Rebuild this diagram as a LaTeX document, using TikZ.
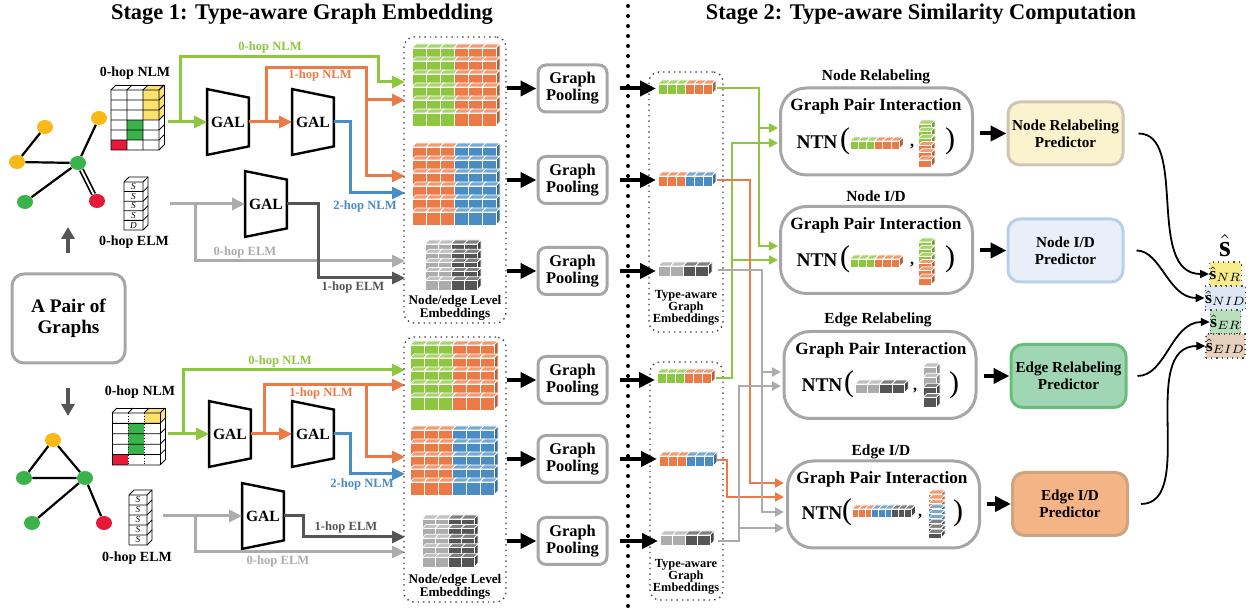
\documentclass[tikz,border=0pt]{standalone}
\usepackage{fontspec}
\setmainfont{Liberation Serif}
\usetikzlibrary{arrows.meta,shapes.geometric}

\definecolor{hopgreen}{RGB}{141,198,63}
\definecolor{hoporange}{RGB}{236,122,70}
\definecolor{hopblue}{RGB}{74,140,196}
\definecolor{elmlight}{RGB}{172,172,172}
\definecolor{elmdark}{RGB}{85,85,85}
\definecolor{framegray}{RGB}{166,166,166}
\definecolor{vyellow}{RGB}{249,185,22}
\definecolor{vgreen}{RGB}{58,180,74}
\definecolor{vred}{RGB}{228,26,56}
\definecolor{mtxyellow}{RGB}{252,226,108}
\definecolor{nrfill}{RGB}{251,242,206}
\definecolor{nrline}{RGB}{206,198,178}
\definecolor{nidfill}{RGB}{233,239,248}
\definecolor{nidline}{RGB}{184,206,234}
\definecolor{erfill}{RGB}{160,214,180}
\definecolor{erline}{RGB}{104,190,120}
\definecolor{eidfill}{RGB}{245,180,134}
\definecolor{eidline}{RGB}{204,164,128}
\definecolor{snr}{RGB}{246,236,140}
\definecolor{snid}{RGB}{222,232,244}
\definecolor{ser}{RGB}{186,222,188}
\definecolor{seid}{RGB}{230,208,190}

% one brick: left, top, width, height, colour
\newcommand{\brick}[5]{%
  \filldraw[brickedge, fill=#5!78!black] ({#1+#3},{#2}) -- ++(4,-4) -- ++(0,{#4}) -- ++(-4,4) -- cycle;
  \filldraw[brickedge, fill=#5!75!white] ({#1},{#2}) -- ++(4,-4) -- ++({#3},0) -- ++(-4,4) -- cycle;
  \filldraw[brickedge, fill=#5] ({#1},{#2}) rectangle ++({#3},{#4});}
% a row of bricks: left, top, width, height, colours
\newcommand{\brickrow}[5]{%
  \foreach \bc [count=\bi] in {#5}{\brick{#1+(\bi-1)*#3}{#2}{#3}{#4}{\bc}}}
% a column of bricks: left, top, width, height, colours from the top down
\newcommand{\brickcol}[5]{%
  \foreach \bc [count=\bi] in {#5}{\brick{#1}{#2+(\bi-1)*#4}{#3}{#4}{\bc}}}
% a wall of bricks, top row first: left, bottom, rows, width, height, colours of one row
\newcommand{\brickwall}[6]{%
  \foreach \br in {#3,...,1}{\brickrow{#1}{#2-\br*#5}{#4}{#5}{#6}}}
% GAL block: name, centre
\newcommand{\galblock}[2]{%
  \node[galtext] (#1) at (#2) {GAL};
  \draw[galedge] (#1.north west) -- ([yshift=-4.25pt]#1.north east)
    -- ([yshift=4.25pt]#1.south east) -- (#1.south west) -- cycle;}

\tikzset{
  stagetitle/.style={font=\bfseries\fontsize{11.2}{12}\selectfont, inner sep=0pt},
  vtx/.style={ellipse, minimum width=8pt, minimum height=7pt, inner sep=0pt},
  graphedge/.style={line width=1.1pt},
  pairbox/.style={draw=framegray, line width=1.5pt, rounded corners=6pt, minimum width=56.5pt,
    minimum height=44.5pt, align=center, inner sep=0pt, font=\bfseries\fontsize{9.6}{10.5}\selectfont},
  pairarrow/.style={draw=elmdark, line width=2pt, -{Triangle[length=6pt,width=6.5pt]}},
  gridline/.style={line width=0.4pt, black},
  elmtext/.style={font=\itshape\fontsize{4.6}{5}\selectfont, inner sep=0pt},
  mtxlabel/.style={font=\bfseries\fontsize{7}{8}\selectfont, inner sep=0pt},
  hop/.style={line width=1.5pt, -{Triangle[length=6.5pt,width=6pt]}},
  hoplabel/.style={font=\bfseries\fontsize{6.3}{7}\selectfont, inner sep=0pt},
  galtext/.style={minimum width=20.5pt, minimum height=32.5pt, inner sep=0pt,
    font=\bfseries\fontsize{7.8}{8}\selectfont},
  galedge/.style={line width=1.2pt},
  brickedge/.style={draw=white, line width=0.35pt},
  embframe/.style={draw=black!75, dotted, line width=0.7pt, rounded corners=5pt},
  emblabel/.style={align=center, inner sep=0pt, font=\bfseries\fontsize{6.6}{6.6}\selectfont},
  talabel/.style={align=center, inner sep=0pt, font=\bfseries\fontsize{6.2}{6.1}\selectfont},
  pool/.style={draw=framegray, line width=1.5pt, rounded corners=4pt, minimum width=34.5pt,
    minimum height=23.5pt, align=center, inner sep=0pt, font=\bfseries\fontsize{8.2}{8.6}\selectfont},
  bigarrow/.style={line width=2pt, -{Triangle[length=8pt,width=7.5pt]}},
  wire/.style={line width=1.1pt, -{Triangle[length=4.5pt,width=4.5pt]}},
  gpi/.style={draw=framegray, line width=1.5pt, rounded corners=13pt, minimum width=96pt,
    minimum height=43.5pt, inner sep=0pt},
  task/.style={font=\bfseries\fontsize{7.7}{8}\selectfont, inner sep=0pt},
  gpititle/.style={font=\bfseries\fontsize{8.6}{9}\selectfont, inner sep=0pt},
  ntn/.style={font=\bfseries\fontsize{9.7}{10}\selectfont, inner sep=0pt},
  paren/.style={font=\fontsize{15}{15}\selectfont, inner sep=0pt},
  comma/.style={font=\bfseries\fontsize{8}{8}\selectfont, inner sep=0pt},
  predictor/.style={line width=1.5pt, rounded corners=6pt, minimum width=57.5pt, minimum height=31.5pt,
    align=center, inner sep=0pt, font=\bfseries\fontsize{7.6}{8.6}\selectfont},
  scorecell/.style={draw=black!70, dotted, line width=0.6pt, minimum width=14.5pt, minimum height=12pt,
    inner sep=0pt, font=\fontsize{8.6}{8.6}\selectfont},
  scorearrow/.style={line width=0.9pt, -{Triangle[length=4.5pt,width=4pt]}},
}

\begin{document}
\begin{tikzpicture}[x=0.5pt, y=-0.5pt]
\useasboundingbox (0,0) rectangle (1250,613);

% titles and divider
\node[stagetitle] (st1) at (302,14) {Stage 1: Type-aware Graph Embedding};
\node[stagetitle] (st2) at (921,14) {Stage 2: Type-aware Similarity Computation};
\draw[line width=2pt, dash pattern=on 0pt off 5pt, line cap=round] (628,6) -- (628,610);

% first graph
\node[vtx, fill=vyellow] (a1) at (45,127) {};
\node[vtx, fill=vyellow] (a2) at (17,162) {};
\node[vtx, fill=vyellow] (a3) at (99,118) {};
\node[vtx, fill=vgreen] (a4) at (78,163) {};
\node[vtx, fill=vgreen] (a5) at (25,202) {};
\node[vtx, fill=vred] (a6) at (97,201) {};
\draw[graphedge] (a1) -- (a2) (a2) -- (a4) (a3) -- (a4) (a4) -- (a5);
\draw[line width=0.8pt, double, double distance=1pt] (a4) -- (a6);

% second graph
\node[vtx, fill=vyellow] (b1) at (53,440) {};
\node[vtx, fill=vgreen] (b2) at (24,478) {};
\node[vtx, fill=vgreen] (b3) at (85,478) {};
\node[vtx, fill=vgreen] (b4) at (32,523) {};
\node[vtx, fill=vred] (b5) at (104,523) {};
\draw[graphedge] (b1) -- (b2) (b1) -- (b3) (b2) -- (b3) (b3) -- (b4) (b3) -- (b5);

% the pair
\node[pairbox] (pair) at (68.5,318.5) {A Pair of\\Graphs};
\coordinate (up0) at (68,253);
\coordinate (up1) at (68,227);
\coordinate (dn0) at (68,388);
\coordinate (dn1) at (68,416);
\draw[pairarrow] (up0) -- (up1);
\draw[pairarrow] (dn0) -- (dn1);

% 0-hop NLM, first graph
\begin{scope}[shift={(111,90)}]
  \fill[mtxyellow] (32,0) rectangle (48,30) (32,0) -- (37,-5) -- (53,-5) -- (48,0) -- cycle
    (48,0) -- (53,-5) -- (53,25) -- (48,30) -- cycle;
  \fill[vgreen] (16,30) rectangle (32,50);
  \fill[vred] (0,50) rectangle (16,60);
  \foreach \i in {0,16,32,48} \draw[gridline] (\i,60) -- (\i,0) -- ++(5,-5);
  \foreach \j in {0,...,6} \draw[gridline] (0,{10*\j}) -- (48,{10*\j}) -- ++(5,-5);
  \draw[gridline] (5,-5) -- (53,-5) -- (53,55);
\end{scope}
\node[mtxlabel] (nlm1lbl) at (135,73) {0-hop NLM};
\coordinate (nlm1) at (168,122);

% 0-hop ELM, first graph
\begin{scope}[shift={(124,182)}]
  \foreach \j in {0,...,5} \draw[gridline] (0,{9.6*\j}) -- (19,{9.6*\j}) -- ++(5,-5);
  \draw[gridline] (0,48) -- (0,0) -- (5,-5) -- (24,-5) -- (24,43) (19,0) -- (19,48);
  \foreach \t [count=\j] in {S,S,S,S,D} \node[elmtext] (elm1-\j) at (9.5,{9.6*\j-4.8}) {\t};
\end{scope}
\node[mtxlabel] (elm1lbl) at (134,242) {0-hop ELM};
\coordinate (elm1) at (170,204);

% 0-hop NLM, second graph
\begin{scope}[shift={(112,413)}]
  \fill[mtxyellow] (32,0) rectangle (48,10.4) (32,0) -- (37,-5) -- (53,-5) -- (48,0) -- cycle
    (48,0) -- (53,-5) -- (53,5.4) -- (48,10.4) -- cycle;
  \fill[vgreen] (16,10.4) rectangle (32,41.6);
  \fill[vred] (0,41.6) rectangle (16,52);
  \draw[gridline, densely dotted] (16,0) -- (16,52) (32,0) -- (32,52);
  \foreach \i in {0,16,32} \draw[gridline] (\i,0) -- ++(5,-5);
  \draw[gridline] (0,0) -- (0,52) (48,0) -- (48,52);
  \foreach \j in {0,...,5} \draw[gridline] (0,{10.4*\j}) -- (48,{10.4*\j}) -- ++(5,-5);
  \draw[gridline] (5,-5) -- (53,-5) -- (53,47);
\end{scope}
\node[mtxlabel] (nlm2lbl) at (140,392) {0-hop NLM};
\coordinate (nlm2) at (168,434);

% 0-hop ELM, second graph
\begin{scope}[shift={(129,495)}]
  \foreach \j in {0,...,5} \draw[gridline] (0,{10*\j}) -- (18,{10*\j}) -- ++(5,-5);
  \draw[gridline] (0,50) -- (0,0) -- (5,-5) -- (23,-5) -- (23,45) (18,0) -- (18,50);
  \foreach \j in {1,...,5} \node[elmtext] (elm2-\j) at (9,{10*\j-5}) {S};
\end{scope}
\node[mtxlabel] (elm2lbl) at (137,558) {0-hop ELM};
\coordinate (elm2) at (163,516);

% GAL layers
\galblock{gal1}{228,122}
\galblock{gal2}{313,122}
\galblock{gal3}{266,204}
\galblock{gal4}{230,434}
\galblock{gal5}{313,434}
\galblock{gal6}{263,516}

% inputs of the node/edge level embeddings
\coordinate (in-a1) at (405,82);
\coordinate (in-a2) at (405,100);
\coordinate (in-a3) at (405,176);
\coordinate (in-a4) at (405,193);
\coordinate (in-a5) at (405,261);
\coordinate (in-a6) at (405,278);
\coordinate (in-b1) at (405,370);
\coordinate (in-b2) at (405,385);
\coordinate (in-b3) at (405,457);
\coordinate (in-b4) at (405,474);
\coordinate (in-b5) at (405,537);
\coordinate (in-b6) at (405,552);

% hops, first graph
\draw[hop, hopgreen] (nlm1) -- (gal1.west);
\draw[hop, hopgreen] (180,122) |- (378,57) |- (in-a1);
\draw[hop, hoporange] (gal1.east) -- (gal2.west);
\draw[hop, hoporange] (266,122) |- (366,68) |- (in-a2);
\draw[hop, hoporange] (366,100) |- (in-a3);
\draw[hop, hopblue] (gal2.east) -- (350,122) |- (in-a4);
\draw[hop, elmlight] (elm1) -- (gal3.west);
\draw[hop, elmlight] (195,204) |- (in-a5);
\draw[hop, elmdark] (gal3.east) -- (318,204) |- (in-a6);
\node[hoplabel, hopgreen] (la1) at (270,47) {0-hop NLM};
\node[hoplabel, hoporange] (la2) at (320,75) {1-hop NLM};
\node[hoplabel, hopblue] (la3) at (365,206) {2-hop NLM};
\node[hoplabel, elmlight] (la4) at (245,252) {0-hop ELM};
\node[hoplabel, elmdark] (la5) at (353,287) {1-hop ELM};

% hops, second graph
\draw[hop, hopgreen] (nlm2) -- (gal4.west);
\draw[hop, hopgreen] (183,434) |- (in-b1);
\draw[hop, hoporange] (gal4.east) -- (gal5.west);
\draw[hop, hoporange] (264,434) |- (in-b2);
\draw[hop, hoporange] (366,385) |- (in-b3);
\draw[hop, hopblue] (gal5.east) -- (350,434) |- (in-b4);
\draw[hop, elmlight] (elm2) -- (gal6.west);
\draw[hop, elmlight] (195,516) |- (in-b6);
\draw[hop, elmdark] (gal6.east) -- (303,516) |- (in-b5);
\node[hoplabel, hopgreen] (lb1) at (280,361) {0-hop NLM};
\node[hoplabel, hoporange] (lb2) at (321,393) {1-hop NLM};
\node[hoplabel, hopblue] (lb3) at (362,484) {2-hop NLM};
\node[hoplabel, elmdark] (lb4) at (346,527) {1-hop ELM};
\node[hoplabel, elmlight] (lb5) at (278,561) {0-hop ELM};

% node/edge level embeddings
\node[embframe, minimum width=51pt, minimum height=143pt] (lvl1) at (455,180) {};
\node[embframe, minimum width=51pt, minimum height=132.5pt] (lvl2) at (455,469.5) {};
\brickwall{412}{126}{6}{14}{13}{hopgreen,hopgreen,hopgreen,hoporange,hoporange,hoporange}
\brickwall{412}{225}{6}{14}{13}{hoporange,hoporange,hoporange,hopblue,hopblue,hopblue}
\brickwall{425}{290}{5}{13}{9.2}{elmlight,elmlight,elmdark,elmdark}
\brickwall{410}{410}{5}{14}{13}{hopgreen,hopgreen,hopgreen,hoporange,hoporange,hoporange}
\brickwall{410}{495}{5}{14}{13}{hoporange,hoporange,hoporange,hopblue,hopblue,hopblue}
\brickwall{422}{567}{5}{13}{9.6}{elmlight,elmlight,elmdark,elmdark}
\node[emblabel] (lvl1lbl) at (455,308) {Node/edge Level\\Embeddings};
\node[emblabel] (lvl2lbl) at (455,587) {Node/edge Level\\Embeddings};

% graph pooling
\node[pool] (pool1) at (572.5,88.5) {Graph\\Pooling};
\node[pool] (pool2) at (572.5,180) {Graph\\Pooling};
\node[pool] (pool3) at (572.5,271) {Graph\\Pooling};
\node[pool] (pool4) at (572.5,380) {Graph\\Pooling};
\node[pool] (pool5) at (572.5,459) {Graph\\Pooling};
\node[pool] (pool6) at (572.5,541) {Graph\\Pooling};
\foreach \p/\f in {1/lvl1,2/lvl1,3/lvl1,4/lvl2,5/lvl2,6/lvl2}
  \draw[bigarrow] (pool\p -| \f.east) -- (pool\p.west);

% type-aware graph embeddings
\node[embframe, minimum width=37pt, minimum height=130pt] (ta1) at (686,202) {};
\node[embframe, minimum width=36.5pt, minimum height=119pt] (ta2) at (686.5,481) {};
\brickrow{658}{84}{9}{10}{hopgreen,hopgreen,hopgreen,hoporange,hoporange,hoporange}
\brickrow{658}{176}{9}{10}{hoporange,hoporange,hoporange,hopblue,hopblue,hopblue}
\brickrow{658}{266}{12.5}{10}{elmlight,elmlight,elmdark,elmdark}
\brickrow{657}{373}{9}{10}{hopgreen,hopgreen,hopgreen,hoporange,hoporange,hoporange}
\brickrow{659}{456}{9}{10}{hoporange,hoporange,hoporange,hopblue,hopblue,hopblue}
\brickrow{660}{535}{12.5}{10}{elmlight,elmlight,elmdark,elmdark}
\node[talabel] (ta1lbl) at (686,308) {Type-aware\\Graph\\Embeddings};
\node[talabel] (ta2lbl) at (686,577) {Type-aware\\Graph\\Embeddings};
\coordinate (tv1) at (656,89);
\coordinate (tv2) at (656,181);
\coordinate (tv3) at (656,271);
\coordinate (tv4) at (655,378);
\coordinate (tv5) at (657,461);
\coordinate (tv6) at (658,540);
\foreach \p in {1,...,6}
  \draw[bigarrow, shorten <=5.5pt] (pool\p.east) -- (pool\p.east -| tv\p);
\coordinate (tw1) at (717,88);
\coordinate (tw2) at (717,180);
\coordinate (tw3) at (718,270);
\coordinate (tw4) at (716,378);
\coordinate (tw5) at (717,460);
\coordinate (tw6) at (718,541);

% graph pair interaction blocks
\node[task] (nrt) at (876,77) {Node Relabeling};
\node[task] (nidt) at (876,196) {Node I/D};
\node[task] (ert) at (878,320) {Edge Relabeling};
\node[task] (eidt) at (881,452) {Edge I/D};
\node[gpi] (nrgpi) at (876.5,131.5) {};
\node[gpi] (nidgpi) at (876.5,250) {};
\node[gpi] (ergpi) at (880,375) {};
\node[gpi] (eidgpi) at (883.5,504.5) {};
\node[gpititle] (nrgp) at (876,106) {Graph Pair Interaction};
\node[gpititle] (nidgp) at (876,225) {Graph Pair Interaction};
\node[gpititle] (ergp) at (881,350) {Graph Pair Interaction};
\node[gpititle] (eidgp) at (882,479) {Graph Pair Interaction};

\node[ntn] (nrntn) at (817,142) {NTN};
\node[paren] (nrl) at (845,141) {(};
\brickrow{850}{141}{8.2}{8}{hopgreen,hopgreen,hopgreen,hoporange,hoporange,hoporange}
\node[comma] (nrc) at (912,147) {,};
\brickcol{918}{124}{13}{7.2}{hopgreen,hopgreen,hopgreen,hoporange,hoporange,hoporange}
\node[paren] (nrr) at (950,141) {)};

\node[ntn] (nidntn) at (817,260) {NTN};
\node[paren] (nidl) at (845,259) {(};
\brickrow{850}{259}{8.2}{8}{hopgreen,hopgreen,hopgreen,hoporange,hoporange,hoporange}
\node[comma] (nidc) at (912,265) {,};
\brickcol{918}{242}{13}{7.2}{hopgreen,hopgreen,hopgreen,hoporange,hoporange,hoporange}
\node[paren] (nidr) at (950,259) {)};

\node[ntn] (erntn) at (822,385) {NTN};
\node[paren] (erl) at (849,384) {(};
\brickrow{855}{384}{12.3}{9}{elmlight,elmlight,elmdark,elmdark}
\node[comma] (erc) at (915,391) {,};
\brickcol{923}{367}{13}{10.2}{elmlight,elmlight,elmdark,elmdark}
\node[paren] (err) at (954,385) {)};

\node[ntn] (eidntn) at (822,513) {NTN};
\node[paren] (eidl) at (847,512) {(};
\brickrow{852}{509}{6.6}{8}{hoporange,hoporange,hoporange,hopblue,hopblue,hopblue,elmdark,elmdark,elmdark}
\node[comma] (eidc) at (920,517) {,};
\brickcol{928}{494}{13}{4.9}{hoporange,hoporange,hoporange,hopblue,hopblue,hopblue,elmdark,elmdark,elmdark}
\node[paren] (eidr) at (958,513) {)};

% wiring into the interaction blocks
\coordinate (nr-1) at (778,128);
\coordinate (nr-2) at (778,143);
\coordinate (nid-1) at (778,246);
\coordinate (nid-2) at (778,260);
\coordinate (er-1) at (781,372);
\coordinate (er-2) at (781,386);
\coordinate (eid-1) at (784,483);
\coordinate (eid-2) at (784,497);
\coordinate (eid-3) at (784,512);
\coordinate (eid-4) at (784,528);
\draw[wire, hopgreen] (tw1) -| (759,246) -- (nid-1);
\draw[wire, hopgreen] (759,128) -- (nr-1);
\draw[wire, hopgreen] (tw4) -| (732,143) -- (nr-2);
\draw[wire, hopgreen] (732,260) -- (nid-2);
\draw[wire, hoporange] (tw2) -| (750,483) -- (eid-1);
\draw[wire, hoporange] (tw5) -| (727,497) -- (eid-2);
\draw[wire, elmlight] (tw3) -| (762,512) -- (eid-3);
\draw[wire, elmlight] (762,372) -- (er-1);
\draw[wire, elmlight] (tw6) -| (739,386) -- (er-2);
\draw[wire, elmlight] (739,528) -- (eid-4);

% predictors
\node[predictor, draw=nrline, fill=nrfill] (nrpred) at (1065.5,133.5) {Node Relabeling\\Predictor};
\node[predictor, draw=nidline, fill=nidfill] (nidpred) at (1065.5,250.5) {Node I/D\\Predictor};
\node[predictor, draw=erline, fill=erfill] (erpred) at (1068.5,376) {Edge Relabeling\\Predictor};
\node[predictor, draw=eidline, fill=eidfill] (eidpred) at (1070,504) {Edge I/D\\Predictor};
\foreach \t in {nr,nid,er,eid}
  \draw[bigarrow, shorten <=3pt] (\t gpi.east |- \t pred.west) -- (\t pred.west);

% similarity scores
\node[font=\fontsize{15}{15}\selectfont, inner sep=0pt] (shat) at (1225,246) {$\hat{\mathbf{s}}$};
\node[scorecell, fill=snr] (snr) at (1225.5,274) {$\hat{\mathbf{s}}_{NR}$};
\node[scorecell, fill=snid] (snid) at (1225.5,298) {$\hat{\mathbf{s}}_{NID}$};
\node[scorecell, fill=ser] (ser) at (1225.5,322) {$\hat{\mathbf{s}}_{ER}$};
\node[scorecell, fill=seid] (seid) at (1225.5,346) {$\hat{\mathbf{s}}_{EID}$};
\draw[scorearrow, shorten <=7pt] (nrpred.east) to[out=0, in=180] (snr.west);
\draw[scorearrow, shorten <=6pt] (nidpred.east) to[out=0, in=180] (snid.west);
\draw[scorearrow, shorten <=5pt] (erpred.east) to[out=0, in=180] (ser.west);
\draw[scorearrow, shorten <=6pt] (eidpred.east) to[out=0, in=180] (seid.west);
\end{tikzpicture}
\end{document}
